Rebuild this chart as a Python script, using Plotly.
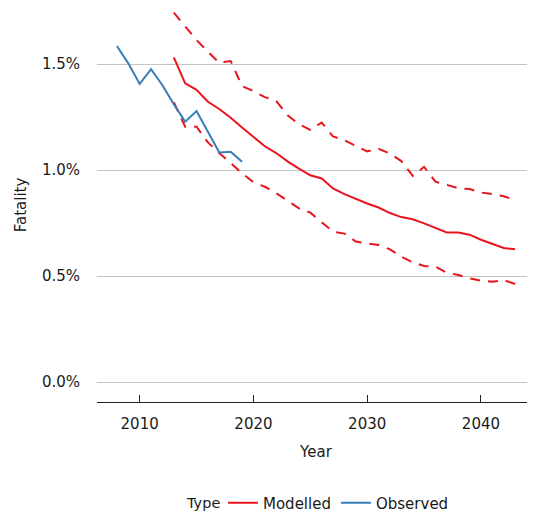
import plotly.graph_objects as go

# Observed fatality (%)
obs_years = list(range(2008, 2020))
obs_vals = [1.585, 1.503, 1.406, 1.476, 1.400, 1.310, 1.228, 1.278, 1.180, 1.083, 1.086, 1.039]

# Modelled fatality (%) with lower / upper bounds
mod_years = list(range(2013, 2044))
mod_mid = [1.531, 1.409, 1.378, 1.322, 1.288, 1.247, 1.200, 1.155, 1.112, 1.080, 1.041,
           1.007, 0.975, 0.960, 0.913, 0.886, 0.863, 0.842, 0.823, 0.797, 0.778, 0.768,
           0.748, 0.725, 0.705, 0.705, 0.695, 0.671, 0.650, 0.632, 0.626]
mod_upper = [1.742, 1.676, 1.613, 1.558, 1.506, 1.514, 1.396, 1.372, 1.344, 1.326, 1.258,
             1.216, 1.189, 1.224, 1.158, 1.140, 1.113, 1.088, 1.100, 1.078, 1.042, 0.972,
             1.015, 0.945, 0.930, 0.914, 0.910, 0.894, 0.886, 0.876, 0.859]
mod_lower = [1.320, 1.204, 1.204, 1.130, 1.080, 1.032, 0.985, 0.942, 0.921, 0.891, 0.853,
             0.819, 0.799, 0.753, 0.709, 0.700, 0.663, 0.654, 0.646, 0.626, 0.591, 0.565,
             0.547, 0.544, 0.516, 0.505, 0.489, 0.478, 0.473, 0.481, 0.462]

y_ticks = [0.0, 0.5, 1.0, 1.5]
y_tick_text = ["0.0%", "0.5%", "1.0%", "1.5%"]
x_ticks = [2010, 2020, 2030, 2040]
legend_title = "Type"

RED = "#E8141E"
BLUE = "#377EB8"
FONT = "DejaVu Sans"

fig = go.Figure()
fig.add_trace(go.Scatter(x=mod_years, y=mod_upper, mode="lines",
                         line=dict(color=RED, width=2, dash="10px,8px"),
                         showlegend=False, hoverinfo="skip"))
fig.add_trace(go.Scatter(x=mod_years, y=mod_lower, mode="lines",
                         line=dict(color=RED, width=2, dash="10px,8px"),
                         showlegend=False, hoverinfo="skip"))
fig.add_trace(go.Scatter(x=mod_years, y=mod_mid, mode="lines", name="Modelled",
                         line=dict(color=RED, width=2)))
fig.add_trace(go.Scatter(x=obs_years, y=obs_vals, mode="lines", name="Observed",
                         line=dict(color=BLUE, width=2)))

# page body adds an 8px offset; the figure is sized to fill the rest of the window
fig.update_layout(
    width=527, height=508,
    margin=dict(l=89, r=0, t=0, b=114),
    paper_bgcolor="white", plot_bgcolor="white",
    font=dict(family=FONT, size=15, color="#1a1a1a"),
    legend=dict(orientation="h", xref="container", x=215 / 527, xanchor="left",
                yref="container", y=1 - 495 / 508, yanchor="middle",
                font=dict(size=15), itemwidth=30),
    xaxis=dict(range=[2006.25, 2044.75], tickvals=x_ticks,
               showgrid=False, zeroline=False,
               showline=True, linecolor="#222222", linewidth=1,
               ticks="inside", ticklen=7, tickcolor="#222222", tickwidth=1,
               ticklabelstandoff=8,
               title=dict(text="Year", standoff=14, font=dict(size=15)),
               tickfont=dict(size=15)),
    yaxis=dict(range=[-0.0943, 1.7642], tickvals=y_ticks, ticktext=y_tick_text,
               showgrid=True, gridcolor="#c4c4c4", gridwidth=1.3,
               zeroline=False, showline=False, ticks="",
               ticklabelstandoff=16,
               title=dict(text="Fatality", standoff=11, font=dict(size=15)),
               tickfont=dict(size=15)),
    annotations=[dict(text=legend_title, xref="paper", yref="paper",
                      x=(222 - 97) / 438, xanchor="right",
                      y=-(503 - 402) / 394, yanchor="middle",
                      showarrow=False, font=dict(size=14.5, color="#1a1a1a"))],
)

fig.write_html("out.html")
